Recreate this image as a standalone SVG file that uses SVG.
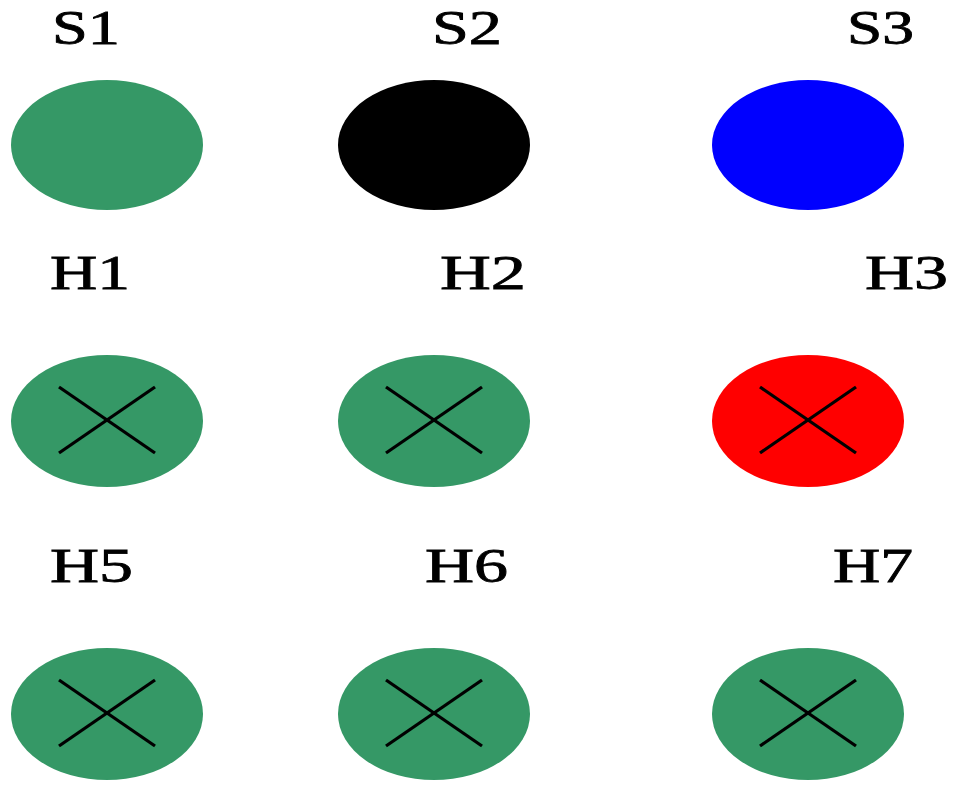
<svg xmlns="http://www.w3.org/2000/svg" width="961" height="785" viewBox="0 0 961 785">
  <defs>
    <style>
      .lbl { font-family: "Liberation Serif", "Times New Roman", serif; font-size: 48px; fill: #000; stroke: #000; stroke-width: 0.8; }
      .node { stroke: none; }
      .green { fill: #359866; }
      .cross { stroke: #000; stroke-width: 3.2; fill: none; }
    </style>
    <g id="x-mark">
      <line class="cross" x1="-48" y1="-33" x2="48" y2="33"/>
      <line class="cross" x1="-48" y1="33" x2="48" y2="-33"/>
    </g>
  </defs>
  <rect width="961" height="785" fill="#fff"/>

  <g id="S1">
    <text class="lbl" x="52" y="44" textLength="68" lengthAdjust="spacingAndGlyphs">S1</text>
    <ellipse class="node green" cx="107" cy="145" rx="96" ry="65"/>
  </g>
  <g id="S2">
    <text class="lbl" x="432" y="44" textLength="70" lengthAdjust="spacingAndGlyphs">S2</text>
    <ellipse class="node" fill="#000" cx="434" cy="145" rx="96" ry="65"/>
  </g>
  <g id="S3">
    <text class="lbl" x="847" y="44" textLength="67" lengthAdjust="spacingAndGlyphs">S3</text>
    <ellipse class="node" fill="#0000ff" cx="808" cy="145" rx="96" ry="65"/>
  </g>

  <g id="H1">
    <text class="lbl" x="50" y="289" textLength="80" lengthAdjust="spacingAndGlyphs">H1</text>
    <ellipse class="node green" cx="107" cy="421" rx="96" ry="66"/>
    <use href="#x-mark" x="107" y="420"/>
  </g>
  <g id="H2">
    <text class="lbl" x="440" y="289" textLength="86" lengthAdjust="spacingAndGlyphs">H2</text>
    <ellipse class="node green" cx="434" cy="421" rx="96" ry="66"/>
    <use href="#x-mark" x="434" y="420"/>
  </g>
  <g id="H3">
    <text class="lbl" x="865" y="289" textLength="83" lengthAdjust="spacingAndGlyphs">H3</text>
    <ellipse class="node" fill="#ff0000" cx="808" cy="421" rx="96" ry="66"/>
    <use href="#x-mark" x="808" y="420"/>
  </g>

  <g id="H5">
    <text class="lbl" x="50" y="582" textLength="83" lengthAdjust="spacingAndGlyphs">H5</text>
    <ellipse class="node green" cx="107" cy="714" rx="96" ry="66"/>
    <use href="#x-mark" x="107" y="713"/>
  </g>
  <g id="H6">
    <text class="lbl" x="425" y="582" textLength="83" lengthAdjust="spacingAndGlyphs">H6</text>
    <ellipse class="node green" cx="434" cy="714" rx="96" ry="66"/>
    <use href="#x-mark" x="434" y="713"/>
  </g>
  <g id="H7">
    <text class="lbl" x="833" y="582" textLength="80" lengthAdjust="spacingAndGlyphs">H7</text>
    <ellipse class="node green" cx="808" cy="714" rx="96" ry="66"/>
    <use href="#x-mark" x="808" y="713"/>
  </g>

  <g id="connectors"></g>
</svg>
